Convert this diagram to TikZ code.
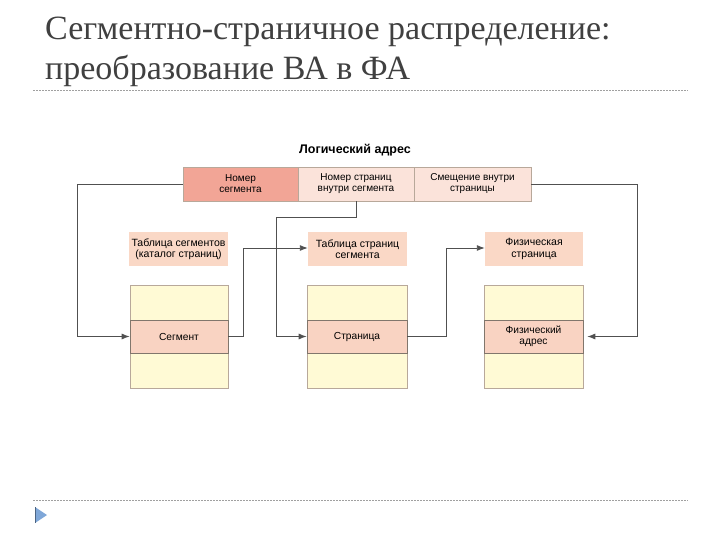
\documentclass[tikz,border=0pt]{standalone}
\usepackage{fontspec}
\setmainfont{Liberation Serif}
\setsansfont{Liberation Sans}
\usetikzlibrary{arrows.meta}
\definecolor{titlecol}{HTML}{404040}
\definecolor{segred}{HTML}{F2A596}
\definecolor{addrpale}{HTML}{FBE3DA}
\definecolor{tabpeach}{HTML}{FAD8C6}
\definecolor{colyellow}{HTML}{FFFAD5}
\definecolor{bandpeach}{HTML}{F9D3C2}
\definecolor{boxedge}{HTML}{B8A89A}
\definecolor{lnk}{HTML}{505050}
\definecolor{sepgray}{HTML}{A0A0A0}
\definecolor{bullblue}{HTML}{7FA7D8}
\tikzset{
  addrbox/.style={draw=boxedge, line width=0.6pt, minimum height=34pt, inner sep=0pt, align=center, font=\sffamily\fontsize{10}{11}\selectfont},
  tabbox/.style={fill=tabpeach, minimum height=34pt, inner sep=0pt, align=center, font=\sffamily\fontsize{10.5}{11.5}\selectfont},
  colbox/.style={draw=boxedge, fill=colyellow, line width=0.6pt, minimum height=103pt, inner sep=0pt},
  bandbox/.style={draw=boxedge!70!black, fill=bandpeach, line width=0.6pt, minimum height=33pt, inner sep=0pt, align=center, font=\sffamily\fontsize{10.2}{11.2}\selectfont},
  link/.style={draw=lnk, line width=0.9pt, -{Latex[length=8pt,width=6pt]}},
  sep/.style={draw=sepgray, line width=0.6pt, dash pattern=on 2pt off 1pt},
}
\begin{document}
\begin{tikzpicture}[x=1pt,y=-1pt]
\useasboundingbox (0,0) rectangle (720,540);
% title
\node[anchor=base west, inner sep=0pt, text=titlecol, font=\fontsize{34}{40}\selectfont] (t1) at (45,40) {Сегментно-страничное распределение:};
\node[anchor=base west, inner sep=0pt, text=titlecol, font=\fontsize{34}{40}\selectfont] (t2) at (45,80) {преобразование ВА в ФА};
\draw[sep] (33,90) -- (688,90);
\draw[sep] (33,500) -- (688,500);
\fill[bullblue] (35,507) -- (47,515) -- (35,523) -- cycle;
\draw[bullblue!60!black, line width=0.8pt] (35,507) -- (35,523);

% logical address
\node[font=\sffamily\bfseries\fontsize{12.5}{14}\selectfont] (la) at (355,150) {Логический адрес};
\node[addrbox, fill=segred, minimum width=115pt] (seg) at (240.5,184) {Номер\\сегмента};
\node[addrbox, fill=addrpale, minimum width=116pt] (pg) at (356,184) {Номер страниц\\внутри сегмента};
\node[addrbox, fill=addrpale, minimum width=117pt] (off) at (472.5,184) {Смещение внутри\\страницы};

% tables
\node[tabbox, minimum width=99pt] (tseg) at (178.5,249) {Таблица сегментов\\(каталог страниц)};
\node[tabbox, minimum width=99pt] (tpg) at (357.5,249) {Таблица страниц\\сегмента};
\node[tabbox, minimum width=98pt] (fpg) at (534,249) {Физическая\\страница};

% columns
\node[colbox, minimum width=98pt] (c1) at (179,336.5) {};
\node[colbox, minimum width=100pt] (c2) at (357,336.5) {};
\node[colbox, minimum width=99pt] (c3) at (533.5,336.5) {};
\node[bandbox, minimum width=98pt] (b1) at (179,336.5) {Сегмент};
\node[bandbox, minimum width=100pt] (b2) at (357,336.5) {Страница};
\node[bandbox, minimum width=99pt] (b3) at (533.5,336.5) {Физический\\адрес};

% connectors
\draw[link] (seg.west) -- (77,184) |- (b1.west);
\draw[link] (pg.south) -- (356,217) -| (276,336.5) -- (b2.west);
\draw[link] (b1.east) -- (243,336.5) |- (tpg.west |- 0,248) ;
\draw[link] (b2.east) -- (446,336.5) |- (fpg.west |- 0,248);
\draw[link] (off.east) -- (637,184) |- ([xshift=4pt]b3.east);
\end{tikzpicture}
\end{document}
